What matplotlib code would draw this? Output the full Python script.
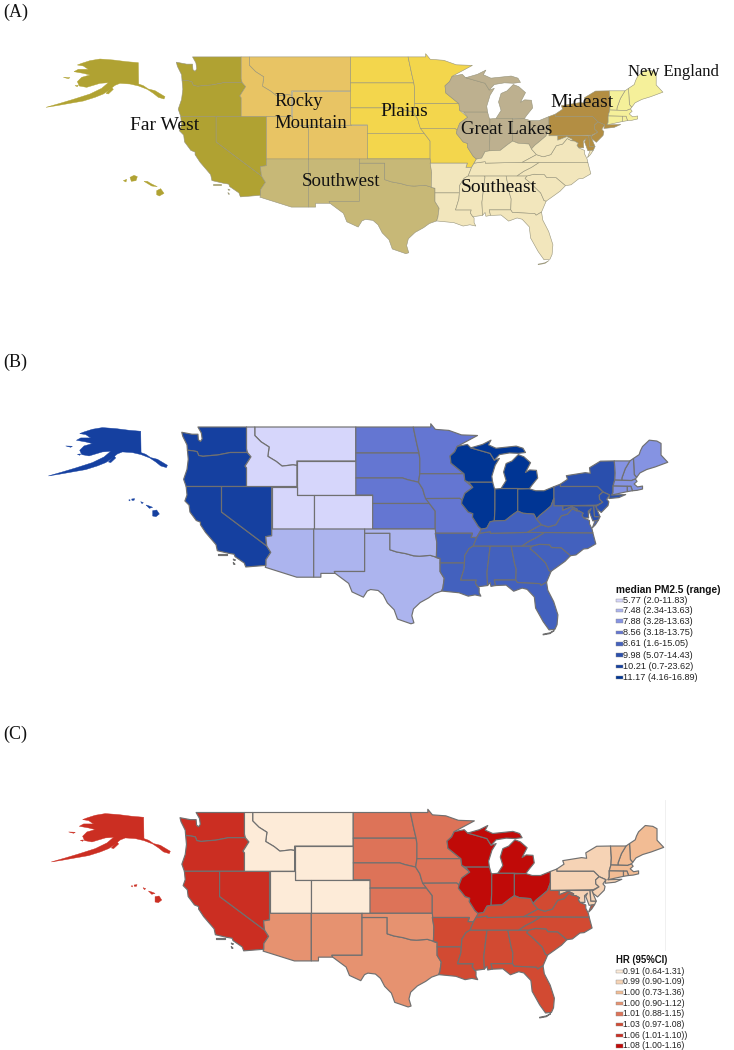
import matplotlib
matplotlib.use('Agg')
import matplotlib.pyplot as plt
from matplotlib.patches import Rectangle
from matplotlib.lines import Line2D

W, H = 734, 1050

# state outlines, lon / lat
WA = [(-122.8,49),(-117.03,49),(-117.03,46.42),(-116.92,46),(-118.98,46),(-119.3,45.93),(-120.5,45.7),(-121.2,45.65),(-122.2,45.55),(-122.7,45.65),(-122.9,46.1),(-123.4,46.2),(-124.05,46.27),(-124.1,46.9),(-124.6,47.9),(-124.72,48.38),(-123.5,48.15),(-122.8,48.15),(-122.75,47.5),(-122.5,47.3),(-122.3,47.6),(-122.4,48.3)]
OR = [(-124.05,46.27),(-123.4,46.2),(-122.9,46.1),(-122.7,45.65),(-122.2,45.55),(-121.2,45.65),(-120.5,45.7),(-119.3,45.93),(-118.98,46),(-116.92,46),(-116.5,45.5),(-116.85,44.95),(-117.2,44.4),(-117.03,44.2),(-117.03,42),(-124.2,42),(-124.5,42.85),(-124.1,44),(-123.95,45.2)]
CA = [(-124.2,42),(-120,42),(-120,39),(-114.63,35),(-114.15,34.25),(-114.72,33.4),(-114.72,32.72),(-117.12,32.53),(-117.3,33),(-118.4,33.75),(-118.5,34.03),(-119.2,34.15),(-120.5,34.45),(-120.65,35.15),(-121.9,36.6),(-122.5,37.5),(-122.5,37.8),(-123,38),(-123.75,39),(-123.85,39.8),(-124.35,40.3),(-124.1,41)]
CA_ISLES = [[(-120.4,34.02),(-119.4,34.02),(-119.4,33.95),(-120.4,33.95)],[(-118.6,33.45),(-118.35,33.35),(-118.5,33.3)],[(-118.6,33.05),(-118.4,32.85),(-118.55,32.85)]]
NV = [(-120,42),(-114.04,42),(-114.04,36.2),(-114.75,36.1),(-114.63,35),(-120,39)]
AZ = [(-114.04,37),(-109.05,37),(-109.05,31.33),(-111.07,31.33),(-114.81,32.5),(-114.72,32.72),(-114.72,33.4),(-114.15,34.25),(-114.63,35),(-114.75,36.1),(-114.04,36.2)]
NM = [(-109.05,37),(-103,37),(-103,32),(-106.6,32),(-106.5,31.78),(-108.2,31.78),(-108.2,31.33),(-109.05,31.33)]
TX = [(-103,36.5),(-100,36.5),(-100,34.56),(-99.2,34.3),(-98.1,34.1),(-97.2,33.85),(-96.5,33.8),(-95.2,33.9),(-94.04,33.55),(-94.04,31.99),(-93.55,31.2),(-93.7,30.1),(-93.85,29.7),(-94.7,29.4),(-95.4,28.9),(-96.4,28.35),(-97.2,27.6),(-97.4,26.8),(-97.15,25.96),(-97.5,25.85),(-99.1,26.4),(-99.5,27.5),(-100.3,28.3),(-100.8,29.25),(-101.4,29.77),(-102.3,29.88),(-102.7,29.7),(-103.15,28.98),(-104.5,29.6),(-104.9,30.6),(-106.5,31.78),(-106.6,32),(-103,32)]
OK = [(-103,37),(-94.62,37),(-94.43,35.4),(-94.48,33.64),(-94.04,33.55),(-95.2,33.9),(-96.5,33.8),(-97.2,33.85),(-98.1,34.1),(-99.2,34.3),(-100,34.56),(-100,36.5),(-103,36.5)]
MT = [(-116.05,49),(-104.05,49),(-104.05,45),(-111.05,45),(-111.05,44.48),(-111.5,44.55),(-112.8,44.4),(-113.5,44.95),(-114.5,45.55),(-114.35,46.65),(-115.3,47.25),(-116.05,48)]
ID = [(-117.03,49),(-116.05,49),(-116.05,48),(-115.3,47.25),(-114.35,46.65),(-114.5,45.55),(-113.5,44.95),(-112.8,44.4),(-111.5,44.55),(-111.05,44.48),(-111.05,42),(-117.03,42),(-117.03,44.2),(-117.2,44.4),(-116.85,44.95),(-116.5,45.5),(-116.92,46),(-117.03,46.42)]
WY = [(-111.05,45),(-104.05,45),(-104.05,41),(-111.05,41)]
UT = [(-114.04,42),(-111.05,42),(-111.05,41),(-109.05,41),(-109.05,37),(-114.04,37)]
CO = [(-109.05,41),(-102.05,41),(-102.05,37),(-109.05,37)]
ND = [(-104.05,49),(-97.23,49),(-96.8,47),(-96.55,45.94),(-104.05,45.94)]
SD = [(-104.05,45.94),(-96.55,45.94),(-96.45,45.3),(-96.45,43.5),(-96.6,42.5),(-97.9,42.8),(-98.5,43),(-104.05,43)]
NE = [(-104.05,43),(-98.5,43),(-97.9,42.8),(-96.6,42.5),(-96.1,41.7),(-95.9,41),(-95.31,40),(-102.05,40),(-102.05,41),(-104.05,41)]
KS = [(-102.05,40),(-95.31,40),(-94.62,39.1),(-94.62,37),(-102.05,37)]
MN = [(-97.23,49),(-95.15,49),(-95.15,49.38),(-94.6,48.72),(-93,48.6),(-91.5,48.07),(-89.6,48),(-92,46.72),(-92.3,46.1),(-92.85,45.6),(-92.75,44.75),(-91.2,43.5),(-96.45,43.5),(-96.45,45.3),(-96.55,45.94),(-96.8,47)]
IA = [(-96.45,43.5),(-91.2,43.5),(-91.1,42.7),(-90.15,41.9),(-91.1,41.2),(-91.42,40.38),(-91.7,40.6),(-95.77,40.58),(-95.9,41),(-96.1,41.7),(-96.6,42.5)]
MO = [(-95.77,40.58),(-91.7,40.6),(-91.42,40.38),(-91.5,40),(-90.7,39),(-90.15,38.8),(-90.2,38.4),(-89.5,37.3),(-89.13,36.98),(-89.4,36.5),(-89.7,36),(-90.37,36),(-90.2,36.5),(-94.62,36.5),(-94.62,39.1),(-95.31,40)]
AR = [(-94.62,36.5),(-90.2,36.5),(-90.37,36),(-89.7,36),(-90.1,35),(-90.6,34.7),(-91.1,33.9),(-91.15,33),(-94.04,33),(-94.04,33.55),(-94.48,33.64),(-94.43,35.4)]
LA = [(-94.04,33),(-91.15,33),(-91.2,32.3),(-91.6,31),(-89.73,31),(-89.85,30.65),(-89.55,30.2),(-89.4,30.05),(-89.4,29.5),(-89.2,29.1),(-89.9,29.25),(-90.7,29.1),(-91.8,29.5),(-92.3,29.55),(-93.85,29.7),(-93.7,30.1),(-93.55,31.2),(-94.04,31.99)]
MS = [(-90.1,35),(-88.2,35),(-88.1,34.9),(-88.47,31.9),(-88.4,30.35),(-89.55,30.2),(-89.85,30.65),(-89.73,31),(-91.6,31),(-91.2,32.3),(-91.15,33),(-91.1,33.9),(-90.6,34.7)]
AL = [(-88.2,35),(-85.6,35),(-85.18,32.87),(-85,32.3),(-85.05,31),(-87.6,31),(-87.45,30.35),(-88,30.25),(-88.1,30.7),(-88.4,30.35),(-88.47,31.9),(-88.1,34.9)]
GA = [(-85.6,35),(-83.1,35),(-83.35,34.7),(-82.75,34.2),(-81.5,33),(-81.1,32.1),(-80.85,32.03),(-81.4,30.75),(-82.05,30.37),(-82.2,30.57),(-84.86,30.7),(-85.05,31),(-85,32.3),(-85.18,32.87)]
FL = [(-87.6,31),(-85.05,31),(-84.86,30.7),(-82.2,30.57),(-82.05,30.37),(-81.4,30.75),(-81.25,29.8),(-80.55,28.45),(-80.05,26.9),(-80.15,25.75),(-80.4,25.2),(-81.1,25.13),(-81.8,26.1),(-82.7,27.7),(-82.85,29),(-83.7,29.9),(-84.3,30.05),(-85.3,29.68),(-86.2,30.4),(-87.45,30.35)]
FL_KEYS = [(-81.8,24.55),(-81,24.7),(-80.5,25.05),(-81,24.78),(-81.8,24.62)]
SC = [(-83.35,34.7),(-83.1,35),(-82.3,35.2),(-81.05,35.15),(-80.8,34.82),(-79.67,34.8),(-78.55,33.86),(-79.2,33.2),(-79.9,32.7),(-80.85,32.03),(-81.1,32.1),(-81.5,33),(-82.75,34.2)]
NC = [(-75.9,36.55),(-75.55,35.25),(-76.5,34.7),(-77,34.65),(-77.9,33.95),(-78.55,33.86),(-79.67,34.8),(-80.8,34.82),(-81.05,35.15),(-82.3,35.2),(-83.1,35),(-84.32,35),(-83.5,35.55),(-82.6,36),(-81.68,36.59)]
TN = [(-90.1,35),(-88.2,35),(-85.6,35),(-84.32,35),(-83.5,35.55),(-82.6,36),(-81.68,36.59),(-83.68,36.6),(-88.07,36.5),(-88.07,36.68),(-89.4,36.5),(-89.7,36)]
KY = [(-89.4,36.5),(-88.07,36.68),(-88.07,36.5),(-83.68,36.6),(-82,37.5),(-82.6,38.17),(-82.9,38.75),(-84.2,38.85),(-84.82,39.1),(-85.4,38.7),(-86.3,38),(-87.6,37.95),(-88.1,37.85),(-88.5,37.1),(-89.13,36.98)]
VA = [(-83.68,36.6),(-81.68,36.59),(-75.9,36.55),(-76,37),(-76.3,37.6),(-76.3,38),(-77,38.3),(-77.2,38.6),(-77.05,38.85),(-77.5,39.1),(-77.83,39.13),(-78.35,39.4),(-78.9,38.75),(-79.65,38.55),(-80.3,37.5),(-81.2,37.25),(-82,37.5)]
VA_SHORE = [(-75.25,38.03),(-75.65,37.95),(-75.95,37.15),(-75.6,37.5)]
WV = [(-82.6,38.17),(-82,37.5),(-81.2,37.25),(-80.3,37.5),(-79.65,38.55),(-78.9,38.75),(-78.35,39.4),(-77.83,39.13),(-77.75,39.32),(-78.4,39.62),(-79.48,39.2),(-79.48,39.72),(-80.52,39.72),(-80.52,40.64),(-80.87,39.7),(-81.7,39),(-82.2,38.6)]
OH = [(-84.82,41.7),(-83.45,41.73),(-82.7,41.5),(-81.7,41.5),(-80.52,41.98),(-80.52,40.64),(-80.87,39.7),(-81.7,39),(-82.2,38.6),(-82.6,38.17),(-82.9,38.75),(-84.2,38.85),(-84.82,39.1)]
IN = [(-87.52,41.7),(-86.8,41.76),(-84.82,41.76),(-84.82,39.1),(-85.4,38.7),(-86.3,38),(-87.6,37.95),(-87.53,39.35)]
IL = [(-90.64,42.5),(-87.8,42.5),(-87.6,41.8),(-87.52,41.7),(-87.53,39.35),(-87.6,37.95),(-88.1,37.85),(-88.5,37.1),(-89.13,36.98),(-89.5,37.3),(-90.2,38.4),(-90.15,38.8),(-90.7,39),(-91.5,40),(-91.42,40.38),(-91.1,41.2),(-90.15,41.9)]
WI = [(-92,46.72),(-90.8,46.95),(-90.4,46.55),(-88.1,45.9),(-87.6,45.1),(-87,45.3),(-87.5,44.5),(-87.9,43.2),(-87.8,42.5),(-90.64,42.5),(-91.1,42.7),(-91.2,43.5),(-92.75,44.75),(-92.85,45.6),(-92.3,46.1)]
MI = [(-86.8,41.76),(-84.82,41.76),(-83.45,41.73),(-83.1,42.2),(-82.45,43),(-82.6,43.9),(-83.4,43.95),(-83.9,43.65),(-83.3,44.8),(-84.1,45.5),(-84.75,45.75),(-85.5,45),(-86.2,44.7),(-86.5,43.7),(-86.2,42.7)]
MI_UP = [(-90.4,46.55),(-89,46.95),(-88,47.45),(-88.3,46.9),(-87.4,46.5),(-85,46.75),(-84.2,46.5),(-83.9,46),(-84.75,45.9),(-85.8,45.95),(-87,45.75),(-87.6,45.1),(-88.1,45.9)]
PA = [(-80.52,41.98),(-79.76,42.27),(-79.76,42),(-75.35,42),(-74.7,41.36),(-75.13,40.97),(-75.1,40.5),(-74.72,40.15),(-75.42,39.8),(-80.52,39.72)]
NY = [(-79.76,42),(-79.76,42.27),(-78.9,42.85),(-79.05,43.27),(-76.8,43.63),(-76.2,43.55),(-76.3,44.2),(-75,44.98),(-73.35,45.01),(-73.25,43.6),(-73.3,42.75),(-73.5,42.05),(-73.5,41.3),(-73.65,41),(-72,41.05),(-72.8,40.7),(-74,40.58),(-73.9,41),(-74.7,41.36),(-75.35,42)]
NJ = [(-74.7,41.36),(-73.9,41),(-74.25,40.5),(-74,40.2),(-74.1,39.75),(-74.9,38.95),(-75.4,39.35),(-75.55,39.63),(-74.72,40.15),(-75.1,40.5),(-75.13,40.97)]
DE = [(-75.79,39.72),(-75.42,39.8),(-75.55,39.63),(-75.05,38.45),(-75.7,38.46)]
MD = [(-79.48,39.72),(-75.79,39.72),(-75.7,38.46),(-75.05,38.45),(-75.25,38.03),(-75.9,37.95),(-76.3,39),(-76.1,39.4),(-76.45,39.1),(-76.4,38.3),(-77,38.3),(-77.2,38.6),(-77.05,38.85),(-77.5,39.1),(-77.83,39.13),(-77.75,39.32),(-78.4,39.62),(-79.48,39.2)]
CT = [(-73.5,42.05),(-71.8,42.02),(-71.8,41.4),(-73.65,41),(-73.5,41.3)]
RI = [(-71.8,42.02),(-71.38,42.02),(-71.2,41.5),(-71.8,41.4)]
MA = [(-73.3,42.75),(-71.3,42.7),(-70.85,42.88),(-70.65,42.6),(-71,42.3),(-70.6,41.95),(-70,42.05),(-70,41.7),(-70.65,41.55),(-71.2,41.5),(-71.38,42.02),(-71.8,42.02),(-73.5,42.05)]
VT = [(-73.35,45.01),(-71.5,45.01),(-72.05,44.1),(-72.45,43),(-72.46,42.73),(-73.3,42.75),(-73.25,43.6)]
NH = [(-71.5,45.01),(-71.08,45.3),(-70.98,43.4),(-70.7,43.07),(-70.85,42.88),(-71.3,42.7),(-72.46,42.73),(-72.45,43),(-72.05,44.1)]
ME = [(-71.08,45.3),(-70.4,45.75),(-70.25,46.2),(-70,46.7),(-69.2,47.45),(-68.3,47.35),(-67.8,47.07),(-67.8,45.7),(-67,44.85),(-68.5,44.3),(-69.5,44),(-70.3,43.6),(-70.7,43.07),(-70.98,43.4)]

# Alaska and Hawaii are drawn as insets, outlines in inset units (1/3 px)
AK = [(150,62),(180,57),(220,60),(260,65),(295,68),(296,132),(310,137),(325,147),(345,152),(375,170),(372,177),(355,172),(340,160),(322,148),(296,138),(270,132),(240,130),(225,136),(205,152),(190,162),(165,172),(130,183),(90,190),(50,197),(18,202),(60,190),(100,178),(150,162),(185,145),(205,128),(180,130),(140,142),(118,138),(112,125),(125,112),(150,105),(130,100),(102,95),(115,88),(145,88),(130,78),(112,75),(125,70)]
AK_ISLES = [[(198,160),(215,142),(220,148),(205,162)],[(70,112),(90,113),(85,116)],[(105,137),(115,136),(112,140)]]
HI_LARGE = [[(350,452),(362,446),(372,460),(358,468),(350,464)],[(312,424),(322,424),(335,432),(352,440),(335,438)],[(270,412),(282,406),(292,410),(288,422),(274,424)],[(250,422),(260,418),(258,426)]]
HI_SMALL = [[(368,272),(380,270),(388,282),(378,290),(368,288)],[(348,255),(358,258),(368,262),(358,265)],[(332,245),(340,248),(336,251)],[(305,237),(314,236),(312,241),(306,241)],[(296,240),(300,239),(300,243)]]

shapes = {'WA':[WA],'OR':[OR],'CA':[CA]+CA_ISLES,'NV':[NV],'AZ':[AZ],'NM':[NM],'TX':[TX],'OK':[OK],'MT':[MT],'ID':[ID],
          'WY':[WY],'UT':[UT],'CO':[CO],'ND':[ND],'SD':[SD],'NE':[NE],'KS':[KS],'MN':[MN],'IA':[IA],'MO':[MO],
          'AR':[AR],'LA':[LA],'MS':[MS],'AL':[AL],'GA':[GA],'FL':[FL,FL_KEYS],'SC':[SC],'NC':[NC],'TN':[TN],'KY':[KY],
          'VA':[VA,VA_SHORE],'WV':[WV],'OH':[OH],'IN':[IN],'IL':[IL],'WI':[WI],'MI':[MI,MI_UP],'PA':[PA],'NY':[NY],
          'NJ':[NJ],'DE':[DE],'MD':[MD],'CT':[CT],'RI':[RI],'MA':[MA],'VT':[VT],'NH':[NH],'ME':[ME]}

far_west = ['WA','OR','CA','NV']
rocky = ['MT','ID','WY','UT','CO']
plains = ['ND','SD','NE','KS','MN','IA','MO']
great_lakes = ['WI','MI','IL','IN','OH']
mideast = ['NY','PA','NJ','MD','DE']
new_england = ['ME','NH','VT','MA','CT','RI']
southwest = ['AZ','NM','TX','OK']
southeast = ['AR','LA','MS','AL','GA','FL','SC','NC','TN','KY','VA','WV']
region_order = [far_west, rocky, plains, great_lakes, mideast, new_england, southwest, southeast]

colors_a = ['#B0A232','#E8C464','#F3D64C','#BDB08F','#B38E43','#F5F09A','#C7B877','#F2E6BC']
colors_b = ['#1540A0','#D6D6FB','#6476D2','#003594','#2A4FAD','#8593E2','#ACB4EE','#4361BE']
colors_c = ['#CB2E22','#FDEBD8','#DD7358','#C00A08','#F6D3B5','#F2BC94','#E69270','#D24A32']

names_a = ['New England','Far West','Rocky','Mountain','Plains','Great Lakes','Mideast','Southwest','Southeast']
names_a_x = [628,130,274,274,380,461,550,302,461]
names_a_y = [72,125.5,101,124,111,129,102,182,187]
names_a_size = [12,14,13.4,13.4,14,13.5,14,13.6,14]

legend_b_title = 'median PM2.5 (range)'
legend_b = ['5.77 (2.0-11.83)','7.48 (2.34-13.63)','7.88 (3.28-13.63)','8.56 (3.18-13.75)','8.61 (1.6-15.05)','9.98 (5.07-14.43)','10.21 (0.7-23.62)','11.17 (4.16-16.89)']
legend_b_colors = ['#D6D6FB','#ACB4EE','#8593E2','#6476D2','#4361BE','#2A4FAD','#1540A0','#003594']
legend_b_y = [600.7,610.7,621,632.7,644,655,666.3,677.3]

legend_c_title = 'HR (95%CI)'
legend_c = ['0.91 (0.64-1.31)','0.99 (0.90-1.09)','1.00 (0.73-1.36)','1.00 (0.90-1.12)','1.01 (0.88-1.15)','1.03 (0.97-1.08)','1.06 (1.01-1.10))','1.08 (1.00-1.16)']
legend_c_colors = ['#FDEBD8','#F6D3B5','#F2BC94','#E69270','#DD7358','#D24A32','#CB2E22','#C00A08']
legend_c_y = [971.3,982,992.7,1003.3,1014,1024.3,1035.3,1046]

plt.rcParams['font.family'] = ['Liberation Sans', 'DejaVu Sans']
fig = plt.figure(figsize=(W / 100, H / 100), dpi=100, facecolor='white')


def fx(x):
    return x / W


def fy(y):
    return 1 - y / H


def draw_map(x_ref, y_ref, kx, ky, top, bottom, colors, edge, lw, ak_shift, hawaii, hi_shift):
    # x_ref, y_ref = pixel of lon -111, lat 37
    ax = fig.add_axes([0, fy(bottom), 1, (bottom - top) / H])
    ax.set_xlim(-111 - x_ref / kx, -111 + (W - x_ref) / kx)
    ax.set_ylim(37 - (bottom - y_ref) / ky, 37 + (y_ref - top) / ky)
    ax.axis('off')
    for region, col in zip(region_order, colors):
        for st in region:
            for part in shapes[st]:
                ax.fill([p[0] for p in part], [p[1] for p in part], facecolor=col,
                        edgecolor=edge, linewidth=lw, joinstyle='round')

    def inset(part, shift):
        xs = [-111 + (p[0] / 3 + shift[0] - x_ref) / kx for p in part]
        ys = [37 + (y_ref - (p[1] / 3 + shift[1])) / ky for p in part]
        ax.fill(xs, ys, facecolor=colors[0], edgecolor=colors[0], linewidth=0.3)

    inset(AK, ak_shift)
    for part in AK_ISLES:
        inset(part, ak_shift)
    for part in hawaii:
        inset(part, hi_shift)
    return ax


def draw_legend(title, labels, cols, rows, title_y, size, title_size):
    fig.text(fx(616), fy(title_y), title, fontsize=title_size, fontweight='bold', va='center', color='#111111')
    for lab, col, y in zip(labels, cols, rows):
        fig.add_artist(Rectangle((fx(616), fy(y + 1.7)), 7 / W, 3.4 / H, transform=fig.transFigure,
                                 facecolor=col, edgecolor='#8c8c8c', linewidth=0.3))
        fig.text(fx(623), fy(y), lab, fontsize=size, va='center', color='#222222')


draw_map(292, 158.9, 8.43, 8.5, 30, 290, colors_a, '#96937a', 0.4, (40, 40), HI_LARGE, (40, 40))
draw_map(297.3, 529, 8.42, 8.5, 400, 660, colors_b, '#707070', 0.85, (42.4, 408.6), HI_SMALL, (30, 420))
draw_map(295, 913.3, 8.38, 8.4, 780, 1040, colors_c, '#707070', 0.85, (45.3, 794.6), HI_SMALL, (32.4, 806))

for name, x, y, s in zip(names_a, names_a_x, names_a_y, names_a_size):
    fig.text(fx(x), fy(y), name, family='Liberation Serif', fontsize=s, va='center', color='#111111')

for lab, y in zip(['(A)', '(B)', '(C)'], [12, 362, 734]):
    fig.text(fx(3), fy(y), lab, family='Liberation Serif', fontsize=13, va='center', color='#111111')

draw_legend(legend_b_title, legend_b, legend_b_colors, legend_b_y, 590, 6.6, 7.3)
draw_legend(legend_c_title, legend_c, legend_c_colors, legend_c_y, 960, 6.2, 6.9)

# faint scan line next to the lower legend
fig.add_artist(Line2D([fx(665), fx(665)], [fy(800), fy(950)], color='#eeeeee', linewidth=0.6))

fig.savefig('out.png', dpi=100)
